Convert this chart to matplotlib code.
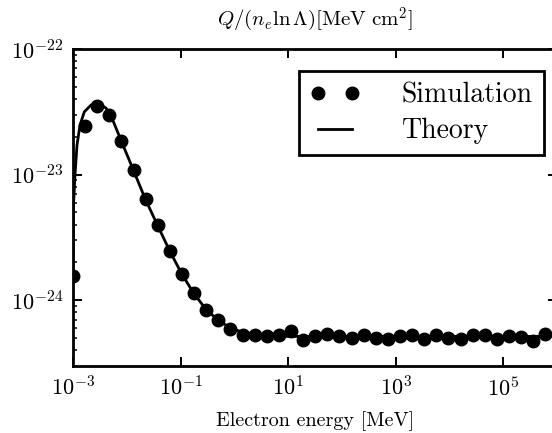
import matplotlib
matplotlib.use("Agg")
import matplotlib.pyplot as plt
from matplotlib.ticker import NullFormatter

plt.rcParams.update({
    "font.family": "serif",
    "font.serif": ["cmr10", "DejaVu Serif"],
    "mathtext.fontset": "cm",
    "axes.formatter.use_mathtext": True,
    "axes.unicode_minus": False,
})

# Simulated energy-loss rate per unit density and Coulomb log
sim_energy = [1.00e-3, 1.68e-3, 2.82e-3, 4.74e-3, 7.96e-3, 1.34e-2, 2.25e-2, 3.77e-2,
              6.33e-2, 0.106, 0.179, 0.300, 0.504, 0.846, 1.42, 2.39, 4.01, 6.74,
              11.3, 19.0, 31.9, 53.6, 90.0, 151, 254, 427, 716, 1.20e3, 2.02e3,
              3.40e3, 5.70e3, 9.58e3, 1.61e4, 2.70e4, 4.54e4, 7.62e4, 1.28e5,
              2.15e5, 3.61e5, 6.07e5]
sim_value = [1.56e-24, 2.43e-23, 3.51e-23, 2.98e-23, 1.85e-23, 1.09e-23, 6.38e-24,
             3.98e-24, 2.47e-24, 1.62e-24, 1.15e-24, 8.43e-25, 6.93e-25, 5.95e-25,
             5.26e-25, 5.33e-25, 5.20e-25, 5.26e-25, 5.66e-25, 4.80e-25, 5.20e-25,
             5.36e-25, 5.20e-25, 5.05e-25, 5.26e-25, 5.05e-25, 4.95e-25, 5.20e-25,
             5.33e-25, 4.89e-25, 5.33e-25, 5.05e-25, 4.89e-25, 5.33e-25, 5.33e-25,
             4.95e-25, 5.20e-25, 5.10e-25, 4.71e-25, 5.43e-25]

# Theoretical curve
theory_energy = [1.000e-3, 1.022e-3, 1.089e-3, 1.187e-3, 1.350e-3, 1.623e-3, 2.163e-3,
                 2.566e-3, 3.180e-3, 4.111e-3, 5.477e-3, 7.918e-3, 1.324e-2, 2.214e-2,
                 3.701e-2, 6.295e-2, 0.1053, 0.1730, 0.2981, 0.5050, 0.8334, 1.436,
                 2.402, 3.896, 10.9, 1e6]
theory_value = [1.55e-24, 5.71e-24, 9.91e-24, 1.72e-23, 2.48e-23, 3.16e-23, 3.58e-23,
                3.68e-23, 3.61e-23, 3.39e-23, 2.72e-23, 1.85e-23, 1.09e-23, 6.38e-24,
                3.98e-24, 2.47e-24, 1.62e-24, 1.15e-24, 8.43e-25, 6.93e-25, 6.04e-25,
                5.56e-25, 5.31e-25, 5.21e-25, 5.16e-25, 5.16e-25]

x_ticks = [1e-3, 1e-1, 1e1, 1e3, 1e5]
y_ticks = [1e-24, 1e-23, 1e-22]

fig = plt.figure(figsize=(5.52, 4.33), dpi=100)
ax = fig.add_axes([73 / 552, 67 / 433, 484 / 552, 317 / 433])

ax.plot(sim_energy, sim_value, "o", color="black", ms=9, label="Simulation")
ax.plot(theory_energy, theory_value, "-", color="black", lw=2.0, label="Theory")

ax.set_xscale("log")
ax.set_yscale("log")
ax.set_xlim(1e-3, 1e6)
ax.set_ylim(3e-25, 1e-22)
ax.set_xticks(x_ticks)
ax.set_yticks(y_ticks)
ax.xaxis.set_minor_formatter(NullFormatter())
ax.yaxis.set_minor_formatter(NullFormatter())

for s in ax.spines.values():
    s.set_linewidth(2.0)
ax.tick_params(which="both", direction="in", top=True, right=True, labelsize=16, pad=7)
ax.tick_params(which="major", length=6.5, width=1.4)
ax.tick_params(which="minor", length=3.2, width=1.1)

ax.set_title(r"$Q/(n_e\ln\Lambda)[\mathrm{MeV\ cm}^2]$", fontsize=15, pad=17)
ax.set_xlabel("Electron energy [MeV]", fontsize=14.5, labelpad=8)

leg = ax.legend(loc="upper right", bbox_to_anchor=(0.973, 0.931), borderaxespad=0,
                numpoints=2, fontsize=20, fancybox=False, edgecolor="black",
                framealpha=1, borderpad=0.4, labelspacing=0.35, handletextpad=1.5,
                handlelength=1.8)
leg.get_frame().set_linewidth(2.0)

fig.savefig("out.png", dpi=100)
